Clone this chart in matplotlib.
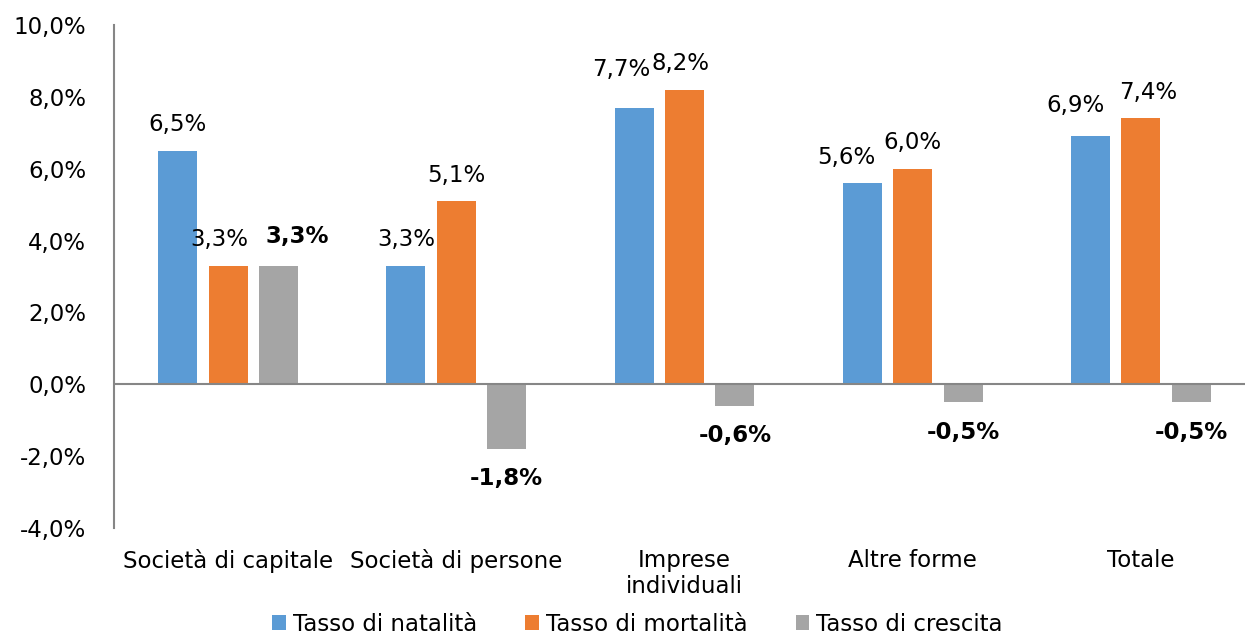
import matplotlib
matplotlib.use("Agg")
import matplotlib.pyplot as plt
import numpy as np

categories = ["Società di capitale", "Società di persone", "Imprese\nindividuali", "Altre forme", "Totale"]
natalita = [6.5, 3.3, 7.7, 5.6, 6.9]
mortalita = [3.3, 5.1, 8.2, 6.0, 7.4]
crescita = [3.3, -1.8, -0.6, -0.5, -0.5]
series_names = ["Tasso di natalità", "Tasso di mortalità", "Tasso di crescita"]
yticks = [-4, -2, 0, 2, 4, 6, 8, 10]

colors = ["#5B9BD5", "#ED7D31", "#A5A5A5"]

def fmt(v):
    return f"{v:.1f}".replace(".", ",") + "%"

FS = 16.5
fig = plt.figure(figsize=(12.45, 6.34), dpi=100)
ax = fig.add_axes([114/1245, 1-528/634, 1141/1245, (528-25)/634])

x = np.arange(len(categories))
w = 0.171
off = 0.221
allvals = [natalita, mortalita, crescita]
bars = []
for i, vals in enumerate(allvals):
    b = ax.bar(x + (i-1)*off, vals, w, color=colors[i], label=series_names[i], zorder=2)
    bars.append(b)

# label placement tweaks (pixel shifts x, y) to mimic the reference's collision avoidance
shift = {
    (1, 0): (-9, 0), (2, 0): (19, 0),
    (0, 2): (-13, -12), (1, 2): (-4, 0),
    (0, 3): (-16, 0),
    (0, 4): (-15, -5), (1, 4): (7, 0),
}
pt = 72/100
for i, vals in enumerate(allvals):
    for j, v in enumerate(vals):
        dx, dy = shift.get((i, j), (0, 0))
        bold = (i == 2)
        if v >= 0:
            oy = 26 + (3 if bold else 0) - dy
        else:
            oy = -30
        ax.annotate(fmt(v), (x[j] + (i-1)*off, v), xytext=(dx*pt, oy*pt),
                    textcoords="offset points", ha="center", va="center",
                    fontsize=FS, fontweight="bold" if bold else "normal", color="#000000")

ax.set_xlim(-0.5, len(categories)-0.5)
ax.set_ylim(-4, 10)
ax.set_yticks(yticks)
ax.set_yticklabels([fmt(t) for t in yticks], fontsize=FS)
ax.set_xticks(x)
ax.set_xticklabels(categories, fontsize=FS, linespacing=1.15)
ax.tick_params(axis="both", length=0, colors="#000000")
ax.tick_params(axis="y", pad=20)
ax.tick_params(axis="x", pad=15)
for s in ["top", "right", "bottom"]:
    ax.spines[s].set_visible(False)
ax.spines["left"].set_color("#868686")
ax.spines["left"].set_linewidth(1.5)
ax.axhline(0, color="#868686", linewidth=1.5, zorder=3)

fig.legend(handles=bars, labels=series_names, loc="lower center", ncol=3,
           bbox_to_anchor=(0.512, -0.035), frameon=False, fontsize=FS,
           handlelength=0.6, handleheight=0.6, handletextpad=0.3, columnspacing=2.1)

fig.savefig("out.png", dpi=100)
